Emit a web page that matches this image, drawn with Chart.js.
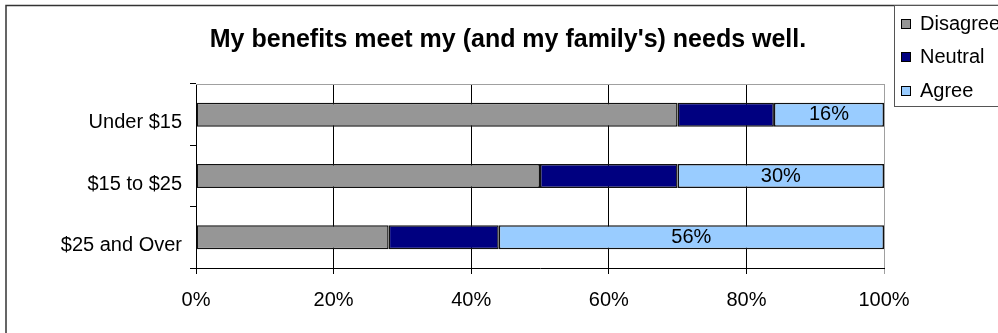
<!DOCTYPE html>
<html>
<head>
<meta charset="utf-8">
<script src="https://cdn.jsdelivr.net/npm/chart.js@4/dist/chart.umd.min.js"></script>
<style>
  html, body { margin: 0; padding: 0; background: #fff; }
  canvas { display: block; }
</style>
</head>
<body>
<canvas id="benefitsChart" width="998" height="333"></canvas>
<script>
// data (percent of respondents)
const categories = ['Under $15', '$15 to $25', '$25 and Over'];
const disagreeValues = [70, 50, 28];
const neutralValues = [14, 20, 16];
const agreeValues = [16, 30, 56];
const xTickValues = [0, 20, 40, 60, 80, 100];
const chartTitle = "My benefits meet my (and my family's) needs well.";

const FONT = "'Liberation Sans', Arial, sans-serif";

// frame, title and legend drawn like the spreadsheet chart
const decorPlugin = {
    id: 'decor',
    beforeDatasetsDraw(chart) {
        const ctx = chart.ctx;
        const a = chart.chartArea;
        ctx.save();
        ctx.strokeStyle = '#a0a0a0';
        ctx.lineWidth = 1;
        ctx.beginPath();
        ctx.moveTo(a.left, Math.round(a.top) + 0.5);
        ctx.lineTo(a.right, Math.round(a.top) + 0.5);
        ctx.stroke();
        ctx.restore();
    },
    afterDraw(chart) {
        const ctx = chart.ctx;
        ctx.save();
        // outer frame (only top and left edges are visible)
        ctx.strokeStyle = '#333';
        ctx.lineWidth = 1.5;
        ctx.beginPath();
        ctx.moveTo(6, 340);
        ctx.lineTo(6, 5.5);
        ctx.lineTo(1000, 5.5);
        ctx.stroke();

        // title
        ctx.fillStyle = '#000';
        ctx.font = 'bold 25px ' + FONT;
        ctx.textAlign = 'center';
        ctx.textBaseline = 'middle';
        ctx.fillText(chartTitle, 508, 40);

        // legend box
        ctx.fillStyle = '#fff';
        ctx.fillRect(894, 6, 110, 101);
        ctx.strokeStyle = '#555';
        ctx.lineWidth = 1;
        ctx.strokeRect(894.5, 5.5, 120, 101);

        const rows = [24, 57, 91];
        ctx.font = '20px ' + FONT;
        ctx.textAlign = 'left';
        chart.data.datasets.forEach((ds, i) => {
            const y = rows[i];
            ctx.fillStyle = ds.backgroundColor;
            ctx.fillRect(902, y - 4, 8, 8);
            ctx.strokeStyle = '#000';
            ctx.strokeRect(901.5, y - 4.5, 9, 9);
            ctx.fillStyle = '#000';
            ctx.fillText(ds.label, 920, y);
        });
        ctx.restore();
    }
};

// percent label centred in each Agree segment
const agreeLabelPlugin = {
    id: 'agreeLabels',
    afterDatasetsDraw(chart) {
        const ctx = chart.ctx;
        const meta = chart.getDatasetMeta(2);
        ctx.save();
        ctx.fillStyle = '#000';
        ctx.font = '20px ' + FONT;
        ctx.textAlign = 'center';
        ctx.textBaseline = 'middle';
        meta.data.forEach((bar, i) => {
            const x = (bar.x + bar.base) / 2;
            ctx.fillText(agreeValues[i] + '%', x, bar.y);
        });
        ctx.restore();
    }
};

const barStyle = {
    borderColor: '#111',
    borderWidth: 1.5,
    borderSkipped: false,
    barPercentage: 0.39,
    categoryPercentage: 1.0
};

new Chart(document.getElementById('benefitsChart'), {
    type: 'bar',
    data: {
        labels: categories,
        datasets: [
            Object.assign({ label: 'Disagree', data: disagreeValues, backgroundColor: '#969696' }, barStyle),
            Object.assign({ label: 'Neutral', data: neutralValues, backgroundColor: '#000080' }, barStyle),
            Object.assign({ label: 'Agree', data: agreeValues, backgroundColor: '#99ccff' }, barStyle)
        ]
    },
    options: {
        indexAxis: 'y',
        responsive: false,
        animation: false,
        layout: {
            padding: { left: 0, right: 114, top: 84, bottom: 0 }
        },
        plugins: {
            legend: { display: false },
            title: { display: false },
            tooltip: { enabled: false }
        },
        scales: {
            x: {
                stacked: true,
                min: 0,
                max: 100,
                afterBuildTicks: (scale) => {
                    scale.ticks = xTickValues.map(v => ({ value: v }));
                },
                afterFit: (scale) => { scale.height = 65; },
                ticks: {
                    callback: (v) => v + '%',
                    color: '#000',
                    font: { family: FONT, size: 20 },
                    padding: 14,
                    maxRotation: 0
                },
                grid: {
                    color: (c) => (c.tick && c.tick.value === 100) ? '#a0a0a0' : '#000',
                    tickLength: 6
                },
                border: { color: '#000' }
            },
            y: {
                stacked: true,
                afterFit: (scale) => { scale.width = 196; },
                ticks: {
                    color: '#000',
                    font: { family: FONT, size: 20 },
                    padding: 8,
                    labelOffset: 8
                },
                grid: {
                    drawOnChartArea: false,
                    color: '#000',
                    tickLength: 6,
                    offset: true
                },
                border: { color: '#000' }
            }
        }
    },
    plugins: [decorPlugin, agreeLabelPlugin]
});
</script>
</body>
</html>
